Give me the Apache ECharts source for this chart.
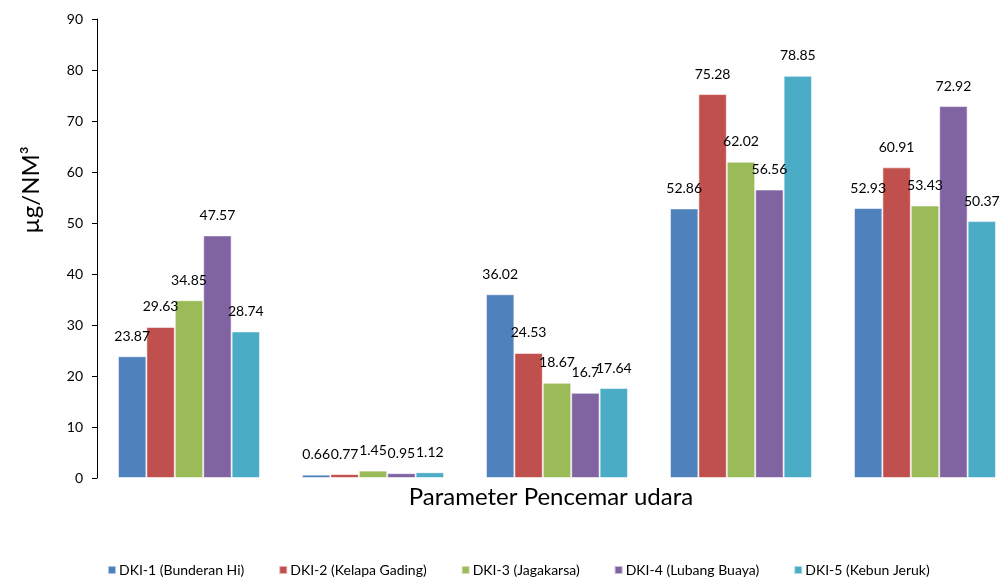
<!DOCTYPE html>
<html>
<head>
<meta charset="utf-8">
<script src="https://cdn.jsdelivr.net/npm/echarts@6/dist/echarts.min.js"></script>
<style>html,body{margin:0;padding:0;background:#fff}#c{width:1003px;height:579px}</style>
</head>
<body>
<div id="c"></div>
<script>
const categories = ['1', '2', '3', '4', '5'];
const seriesNames = ['DKI-1 (Bunderan Hi)', 'DKI-2 (Kelapa Gading)', 'DKI-3 (Jagakarsa)', 'DKI-4 (Lubang Buaya)', 'DKI-5 (Kebun Jeruk)'];
const dki1 = [23.87, 0.66, 36.02, 52.86, 52.93];
const dki2 = [29.63, 0.77, 24.53, 75.28, 60.91];
const dki3 = [34.85, 1.45, 18.67, 62.02, 53.43];
const dki4 = [47.57, 0.95, 16.7, 56.56, 72.92];
const dki5 = [28.74, 1.12, 17.64, 78.85, 50.37];
const yTicks = [0, 10, 20, 30, 40, 50, 60, 70, 80, 90];
const colors = ['#4F81BD', '#C0504D', '#9BBB59', '#8064A2', '#4BACC6'];
const allData = [dki1, dki2, dki3, dki4, dki5];
const FONT = 'Lato, "Open Sans", sans-serif';

const chart = echarts.init(document.getElementById('c'), null, {renderer: 'canvas'});
chart.setOption({
  animation: false,
  color: colors,
  textStyle: {fontFamily: FONT},
  grid: {left: 97, top: 19, width: 920, height: 459, containLabel: false, outerBoundsMode: 'none'},
  xAxis: {
    type: 'category',
    data: categories,
    axisLine: {show: false},
    axisTick: {show: false},
    axisLabel: {show: false},
    splitLine: {show: false}
  },
  yAxis: {
    type: 'value',
    min: yTicks[0],
    max: yTicks[yTicks.length - 1],
    interval: 10,
    axisLine: {show: true, lineStyle: {color: '#000', width: 1}},
    axisTick: {show: true, inside: false, length: 5, lineStyle: {color: '#000'}},
    axisLabel: {margin: 14, fontSize: 14, color: '#000', fontFamily: FONT},
    splitLine: {show: false}
  },
  legend: {
    data: seriesNames,
    left: 102,
    top: 558,
    itemWidth: 8,
    itemHeight: 8,
    itemGap: 34,
    icon: 'rect',
    textStyle: {fontSize: 14, color: '#000', fontFamily: FONT, padding: [0, 0, 0, -2]}
  },
  graphic: [
    {
      type: 'text',
      x: 31, y: 190,
      rotation: Math.PI / 2,
      style: {text: 'µg/NM³', fontSize: 24, fontFamily: FONT, fill: '#000', textAlign: 'center', textVerticalAlign: 'middle'}
    },
    {
      type: 'text',
      x: 551, y: 497,
      style: {text: 'Parameter Pencemar udara', fontSize: 24, fontFamily: FONT, fill: '#000', textAlign: 'center', textVerticalAlign: 'middle'}
    }
  ],
  series: seriesNames.map((name, i) => ({
    name: name,
    type: 'bar',
    data: allData[i],
    barGap: '0%',
    barCategoryGap: '22.8%',
    itemStyle: {color: colors[i], borderColor: 'rgba(255,255,255,0.55)', borderWidth: 1},
    label: {show: true, position: 'top', distance: 13, fontSize: 14, color: '#000', fontFamily: FONT}
  }))
});
</script>
</body>
</html>
